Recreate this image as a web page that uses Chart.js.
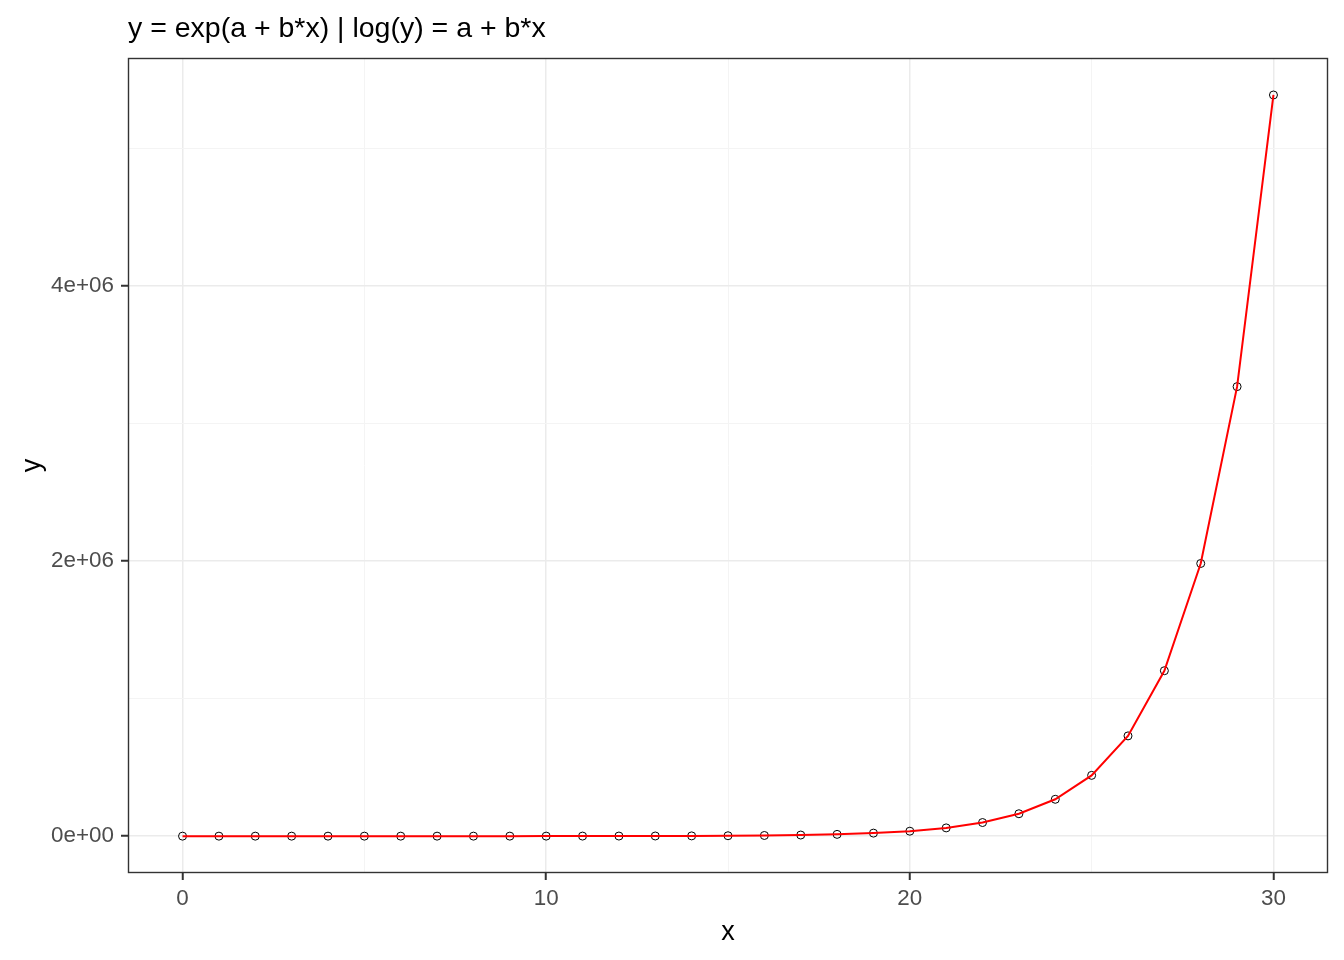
<!DOCTYPE html>
<html>
<head>
<meta charset="utf-8">
<script src="https://cdn.jsdelivr.net/npm/chart.js@4.4.1/dist/chart.umd.min.js"></script>
<style>
  html, body { margin: 0; padding: 0; background: #ffffff; }
  #wrap { width: 1344px; height: 960px; position: relative; }
</style>
</head>
<body>
<div id="wrap"><canvas id="c" width="1344" height="960"></canvas></div>
<script>
const chartTitle = 'y = exp(a + b*x) | log(y) = a + b*x';
const xValues = [0, 1, 2, 3, 4, 5, 6, 7, 8, 9, 10, 11, 12, 13, 14, 15, 16, 17, 18, 19, 20, 21, 22, 23, 24, 25, 26, 27, 28, 29, 30];
const yValues = [1.6, 2.7, 4.5, 7.4, 12, 20, 33, 55, 90, 150, 240, 400, 670, 1100, 1800, 3000, 4900, 8100, 13000, 22000, 36000, 60000, 99000, 163000, 268000, 442000, 729000, 1203000, 1983000, 3269000, 5390000];
const xTickValues = [0, 5, 10, 15, 20, 25, 30];
const xTickLabels = ['0', '', '10', '', '20', '', '30'];
const yTickValues = [0, 1000000, 2000000, 3000000, 4000000, 5000000];
const yTickLabels = ['0e+00', '', '2e+06', '', '4e+06', ''];
const xAxisTitle = 'x';
const yAxisTitle = 'y';

const points = xValues.map((x, i) => ({ x: x, y: yValues[i] }));
const FONT = "'Liberation Sans', Arial, sans-serif";

const isMajor = (labels, idx) => labels[idx] !== '' && labels[idx] !== undefined;

const frame = {
  id: 'frame',
  afterDatasetsDraw(chart) {
    const a = chart.chartArea, ctx = chart.ctx;
    ctx.save();
    ctx.strokeStyle = '#333333';
    ctx.lineWidth = 1.4;
    ctx.strokeRect(Math.round(a.left) + 0.5, Math.round(a.top) + 0.5, Math.round(a.right - a.left) - 1, Math.round(a.bottom - a.top) - 1);
    ctx.restore();
  }
};

const titlePlugin = {
  id: 'leftTitle',
  afterDraw(chart) {
    const ctx = chart.ctx;
    ctx.save();
    ctx.fillStyle = '#000000';
    ctx.font = '28.5px ' + FONT;
    ctx.textAlign = 'left';
    ctx.textBaseline = 'alphabetic';
    ctx.fillText(chartTitle, chart.chartArea.left, 37);
    ctx.restore();
  }
};

new Chart(document.getElementById('c'), {
  type: 'scatter',
  data: {
    datasets: [
      {
        type: 'line',
        data: points,
        borderColor: '#FF0000',
        borderWidth: 2,
        pointRadius: 0,
        fill: false,
        tension: 0,
        order: 0
      },
      {
        type: 'scatter',
        data: points,
        pointStyle: 'circle',
        pointRadius: 4,
        pointBorderWidth: 1,
        pointBorderColor: '#000000',
        pointBackgroundColor: 'rgba(0,0,0,0)',
        order: 1
      }
    ]
  },
  options: {
    responsive: false,
    animation: false,
    devicePixelRatio: 1,
    layout: { padding: { top: 58, right: 16, bottom: 0, left: 0 } },
    plugins: { legend: { display: false }, tooltip: { enabled: false }, title: { display: false } },
    scales: {
      x: {
        type: 'linear',
        min: -1.5,
        max: 31.5,
        afterFit(s) { s.height = 87; },
        afterBuildTicks(s) { s.ticks = xTickValues.map(v => ({ value: v })); },
        border: { display: false },
        grid: {
          color: (c) => isMajor(xTickLabels, c.index) ? '#EBEBEB' : '#F4F4F4',
          lineWidth: (c) => isMajor(xTickLabels, c.index) ? 1.5 : 1,
          tickColor: (c) => isMajor(xTickLabels, c.index) ? '#333333' : 'rgba(0,0,0,0)',
          tickLength: 7,
          tickWidth: 2,
          drawTicks: true
        },
        ticks: {
          autoSkip: false,
          maxRotation: 0,
          padding: 5,
          color: '#4D4D4D',
          font: { family: FONT, size: 22.4 },
          callback: (v, i) => xTickLabels[i]
        },
        title: {
          display: true,
          text: xAxisTitle,
          color: '#000000',
          font: { family: FONT, size: 27 },
          padding: { top: 0, bottom: 11 }
        }
      },
      y: {
        type: 'linear',
        min: -268000,
        max: 5659000,
        afterFit(s) { s.width = 128; },
        afterBuildTicks(s) { s.ticks = yTickValues.map(v => ({ value: v })); },
        border: { display: false },
        grid: {
          color: (c) => isMajor(yTickLabels, c.index) ? '#EBEBEB' : '#F4F4F4',
          lineWidth: (c) => isMajor(yTickLabels, c.index) ? 1.5 : 1,
          tickColor: (c) => isMajor(yTickLabels, c.index) ? '#333333' : 'rgba(0,0,0,0)',
          tickLength: 7,
          tickWidth: 2,
          drawTicks: true
        },
        ticks: {
          autoSkip: false,
          padding: 7,
          color: '#4D4D4D',
          font: { family: FONT, size: 22.4 },
          callback: (v, i) => yTickLabels[i]
        },
        title: {
          display: true,
          text: yAxisTitle,
          color: '#000000',
          font: { family: FONT, size: 27 },
          padding: { top: 16, bottom: 0 }
        }
      }
    }
  },
  plugins: [frame, titlePlugin]
});
</script>
</body>
</html>
